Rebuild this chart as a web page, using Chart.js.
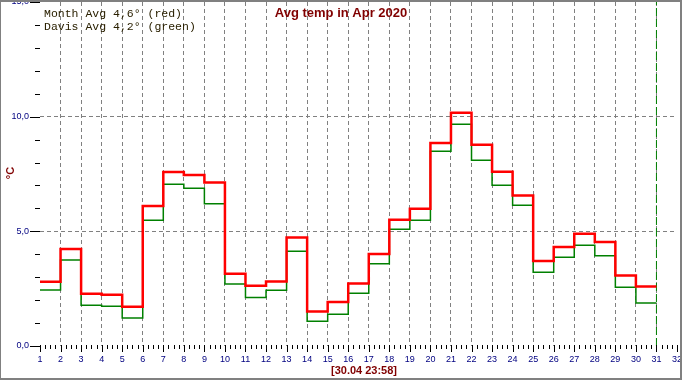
<!DOCTYPE html>
<html>
<head>
<meta charset="utf-8">
<title>Avg temp in Apr 2020</title>
<script src="https://cdn.jsdelivr.net/npm/chart.js"></script>
<style>
  html, body { margin: 0; padding: 0; background: #fff; }
  #grafico { display: block; }
</style>
</head>
<body>
<canvas id="grafico" width="682" height="380"></canvas>
<script>
// 1. DATA
const dias = [1, 2, 3, 4, 5, 6, 7, 8, 9, 10, 11, 12, 13, 14, 15, 16, 17, 18, 19, 20,
              21, 22, 23, 24, 25, 26, 27, 28, 29, 30];
const mediaMes = [2.80, 4.23, 2.28, 2.24, 1.71, 6.11, 7.59, 7.46, 7.13, 3.15,
                  2.63, 2.81, 4.73, 1.50, 1.92, 2.72, 4.01, 5.50, 5.99, 8.85,
                  10.17, 8.77, 7.60, 6.56, 3.71, 4.32, 4.89, 4.54, 3.07, 2.59];
const mediaDavis = [2.44, 3.75, 1.78, 1.73, 1.22, 5.48, 7.05, 6.88, 6.20, 2.70,
                    2.12, 2.43, 4.13, 1.08, 1.38, 2.30, 3.59, 5.09, 5.48, 8.49,
                    9.67, 8.10, 7.01, 6.14, 3.22, 3.87, 4.39, 3.93, 2.56, 1.88];
const diaAtual = 31;
const titulo = 'Avg temp in Apr 2020';
const legendas = ['Month Avg 4,6\u00b0 (red)', 'Davis Avg 4,2\u00b0 (green)'];
const unidade = '\u00b0C';
const rodape = '[30.04 23:58]';

// each day holds its value until the next day
function degraus(valores) {
    const pts = dias.map((d, i) => ({ x: d, y: valores[i] }));
    pts.push({ x: diaAtual, y: valores[valores.length - 1] });
    return pts;
}

// 2. EXTRA DRAWING (frame, ticks, texts)
const extras = {
    id: 'extras',
    beforeDraw(chart) {
        const c = chart.ctx;
        c.save();
        c.fillStyle = '#fff';
        c.fillRect(0, 0, chart.width, chart.height);
        c.restore();
    },
    afterDraw(chart) {
        const c = chart.ctx;
        const sx = chart.scales.x, sy = chart.scales.y;
        c.save();

        // ticks on y
        c.strokeStyle = '#000';
        c.lineWidth = 1;
        c.beginPath();
        for (let v = 0; v <= 15; v++) {
            const y = Math.round(sy.getPixelForValue(v)) + 0.5;
            c.moveTo(v % 5 === 0 ? 30 : 35, y);
            c.lineTo(40, y);
        }
        // ticks on x
        const base = Math.round(sy.getPixelForValue(0));
        for (let d = 1; d <= 32; d += 0.25) {
            const x = Math.round(sx.getPixelForValue(d)) + 0.5;
            const major = Number.isInteger(d);
            c.moveTo(x, base - 1);
            c.lineTo(x, base + (major ? 6 : 3));
        }
        c.stroke();

        // title
        c.fillStyle = '#800000';
        c.font = 'bold 13px "Liberation Sans", Arial, sans-serif';
        c.textAlign = 'center';
        c.textBaseline = 'alphabetic';
        c.fillText(titulo, 341, 17);

        // footer
        c.font = 'bold 11px "Liberation Sans", Arial, sans-serif';
        c.fillText(rodape, 364, 374);

        // unit, rotated
        c.save();
        c.translate(11, 173);
        c.rotate(-Math.PI / 2);
        c.textBaseline = 'middle';
        c.fillText(unidade, 0, 0);
        c.restore();

        // legend texts
        c.fillStyle = '#2a2000';
        c.font = '11.5px "Liberation Mono", "Courier New", monospace';
        c.textAlign = 'left';
        c.fillText(legendas[0], 44, 17);
        c.fillText(legendas[1], 44, 30);

        // frame
        c.fillStyle = '#808080';
        c.fillRect(0, 0, 682, 2);
        c.fillRect(0, 0, 1, 380);
        c.fillRect(680, 0, 2, 380);
        c.fillRect(0, 378, 682, 2);
        c.restore();
    }
};

// 3. CHART
const ctx = document.getElementById('grafico').getContext('2d');
new Chart(ctx, {
    type: 'line',
    data: {
        datasets: [
            {
                label: 'Now',
                data: [{ x: diaAtual, y: 0 }, { x: diaAtual, y: 15 }],
                borderColor: '#008000',
                borderWidth: 1,
                borderDash: [8, 3],
                pointRadius: 0,
                order: 3
            },
            {
                label: 'Davis',
                data: degraus(mediaDavis),
                borderColor: '#008000',
                borderWidth: 1.5,
                stepped: true,
                pointRadius: 0,
                borderJoinStyle: 'miter',
                order: 2
            },
            {
                label: 'Month',
                data: degraus(mediaMes),
                borderColor: '#ff0000',
                borderWidth: 2.5,
                stepped: true,
                pointRadius: 0,
                borderJoinStyle: 'miter',
                order: 1
            }
        ]
    },
    options: {
        responsive: false,
        animation: false,
        layout: { padding: { top: 2, right: 5, left: 0, bottom: 0 } },
        plugins: {
            legend: { display: false },
            tooltip: { enabled: false },
            title: { display: false }
        },
        scales: {
            x: {
                type: 'linear',
                min: 1,
                max: 32,
                grid: {
                    drawTicks: false,
                    color: c => (c.tick && c.tick.value >= 2 && c.tick.value <= 31) ? '#808080' : 'rgba(0,0,0,0)',
                    lineWidth: 1
                },
                border: { display: false, dash: [4, 3] },
                ticks: {
                    stepSize: 1,
                    autoSkip: false,
                    maxRotation: 0,
                    padding: 8,
                    color: '#000080',
                    font: { family: '"Liberation Sans", Arial, sans-serif', size: 9 },
                    callback: v => String(v)
                },
                afterFit: s => { s.height = 34; s.paddingLeft = 0; s.paddingRight = 0; }
            },
            y: {
                min: 0,
                max: 15,
                grid: {
                    drawTicks: false,
                    color: c => (c.tick && (c.tick.value === 5 || c.tick.value === 10)) ? '#808080' : 'rgba(0,0,0,0)',
                    lineWidth: 1
                },
                border: { display: false, dash: [4, 3] },
                ticks: {
                    stepSize: 5,
                    padding: 11,
                    color: '#000080',
                    font: { family: '"Liberation Sans", Arial, sans-serif', size: 9 },
                    callback: v => v.toFixed(1).replace('.', ',')
                },
                afterFit: s => { s.width = 40; s.paddingTop = 0; s.paddingBottom = 0; }
            }
        }
    },
    plugins: [extras]
});
</script>
</body>
</html>
